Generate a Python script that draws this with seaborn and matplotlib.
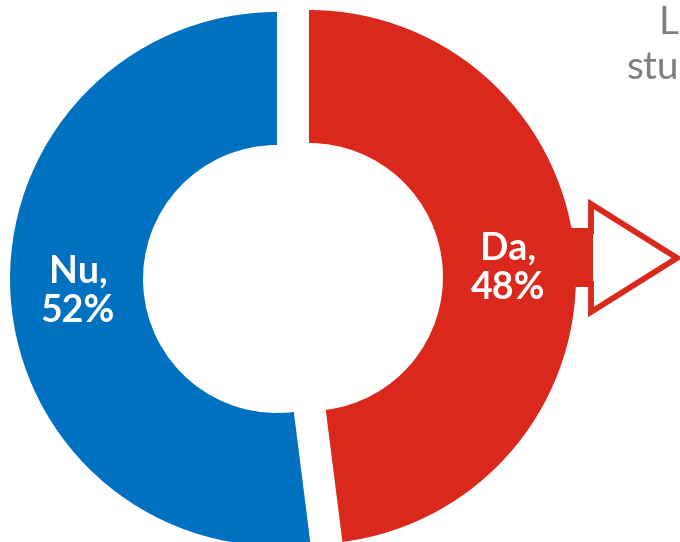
import matplotlib.pyplot as plt
import seaborn as sns
from matplotlib.patches import Polygon, Rectangle

# survey answer shares
answers = ['Da', 'Nu']
shares = [48, 52]
colors = ['#DA291C', '#0070C0']

sns.set_theme(style='white')
plt.rcParams['font.family'] = ['Lato', 'DejaVu Sans']

fig = plt.figure(figsize=(6.8, 5.42), dpi=100)
ax = fig.add_axes([0, 0, 1, 1])

# donut geometry in pixel units (explode is an absolute offset here)
cx, cy = 293, 542 - 278
radius = 267
ring = 133
explode = [16] * len(shares)

wedges, _ = ax.pie(shares, colors=colors, startangle=90, counterclock=False,
                   center=(cx, cy), radius=radius, explode=explode,
                   wedgeprops=dict(width=ring, linewidth=0))

ax.set_xlim(0, 680)
ax.set_ylim(0, 542)
ax.set_aspect('auto')
ax.axis('off')

# callout arrow next to the "Da" slice
ax.add_patch(Rectangle((560, 542 - 287), 34, 59, color=colors[0], lw=0))
ax.add_patch(Polygon([(591, 542 - 204), (591, 542 - 312), (677, 542 - 258)],
                     closed=True, fill=False, edgecolor=colors[0],
                     linewidth=4.2, joinstyle='miter'))
ax.add_patch(Rectangle((593, 542 - 281), 6, 47, color='white', lw=0))

# slice labels
ax.text(508, 542 - 268, f'{answers[0]},\n{shares[0]}%', color='white',
        fontsize=27, fontweight='bold', ha='center', va='center',
        linespacing=1.2)
ax.text(78, 542 - 291, f'{answers[1]},\n{shares[1]}%', color='white',
        fontsize=27, fontweight='bold', ha='center', va='center',
        linespacing=1.2)

# cut-off heading at the top right
ax.text(659, 542 - 34, 'L', color='#7F7F7F', fontsize=28, ha='left',
        va='baseline')
ax.text(627, 542 - 79, 'stu', color='#7F7F7F', fontsize=28, ha='left',
        va='baseline')

fig.savefig('out.png', dpi=100)
